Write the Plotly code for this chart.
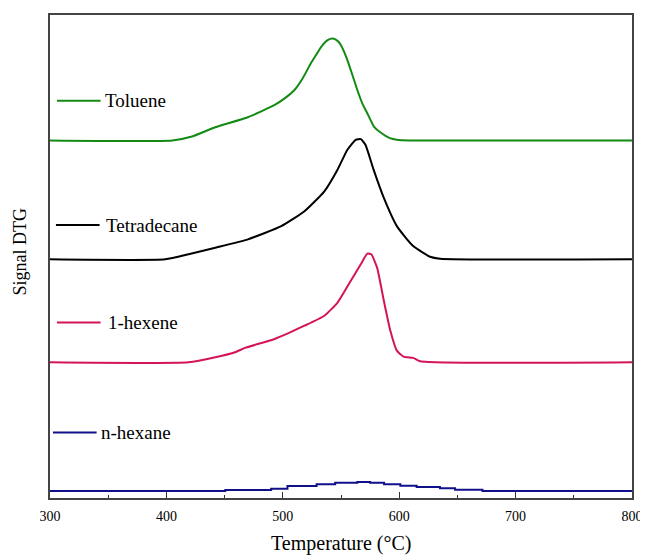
import plotly.graph_objects as go

# ---- data (Temperature °C, DTG signal in arbitrary offset units) ----
toluene_T = [300, 405, 422, 442, 470, 493, 501.6, 510, 517, 524, 528.5, 533, 538.5, 543, 547,
             550, 552.7, 555.5, 559.8, 564, 568.3, 572.6, 578.3, 584, 592, 598, 609, 800]
toluene_S = [359, 359, 363, 372.3, 382.3, 394.7, 401.3, 409.7, 421.3, 436.3, 444.7, 453, 459.7, 461.3, 459,
             454.7, 448, 439.7, 424.7, 409.7, 396.3, 386.3, 373, 367, 361.3, 359.7, 359, 359]

tetradecane_T = [300, 399, 419, 442, 470, 498.7, 518.6, 535.7, 547, 555.5, 562.6, 567, 571,
                 578, 586.8, 598, 612, 626.5, 635, 800]
tetradecane_S = [239.7, 239.7, 244.7, 251.3, 259.7, 273, 288, 308, 329.7, 349.7, 359.7, 360.3, 354.7,
                 329.7, 301.3, 273, 253, 242.3, 240.3, 239.7]

hexene_T = [300, 419, 442, 459, 467.5, 493, 518.6, 535.7, 547, 558.3, 567, 572.6, 576,
            581, 586.8, 592.4, 598, 603.8, 612, 618, 800]
hexene_S = [136.3, 136.3, 141.3, 146.3, 150.7, 159.7, 173, 183, 196.3, 218, 234.7, 245.3, 244.7,
            231.3, 198, 168, 148, 142, 140.7, 137.3, 136.3]

nhexane_T = [300, 450.6, 490, 504, 529, 545, 564, 575, 587, 601, 615, 635, 648, 671.5, 800]
nhexane_S = [7, 8, 9.3, 12, 13.7, 15.3, 16, 15.3, 13.7, 12.3, 11, 9.7, 8.3, 7, 7]

series_names = ["Toluene", "Tetradecane", "1-hexene", "n-hexane"]
series_colors = ["#138a13", "#000000", "#d4145a", "#10108a"]

x_ticks = [300, 400, 500, 600, 700, 800]

FONT = "Liberation Serif, Times New Roman, serif"

fig = go.Figure()
data = [(toluene_T, toluene_S), (tetradecane_T, tetradecane_S),
        (hexene_T, hexene_S), (nhexane_T, nhexane_S)]
for (xs, ys), name, col in zip(data, series_names, series_colors):
    if name == "n-hexane":
        ln = dict(color=col, width=2, shape="hv")
    else:
        ln = dict(color=col, width=2, shape="spline", smoothing=0.5)
    fig.add_trace(go.Scatter(x=xs, y=ys, mode="lines", name=name, line=ln,
                             showlegend=False, hoverinfo="skip"))

# in-plot legend items (line sample + label), paper coordinates
legend_pos = [  # (x0, x1, y, text_x)
    (0.0119, 0.0869, 0.8227, 0.0903),
    (0.0102, 0.0852, 0.5650, 0.0920),
    (0.0119, 0.0869, 0.3635, 0.0954),
    (0.0051, 0.0801, 0.1355, 0.0835),
]
for (x0, x1, yy, tx), name, col in zip(legend_pos, series_names, series_colors):
    fig.add_shape(type="line", xref="paper", yref="paper", x0=x0, x1=x1, y0=yy, y1=yy,
                  line=dict(color=col, width=2))
    fig.add_annotation(xref="paper", yref="paper", x=tx, y=yy, text=name, showarrow=False,
                       xanchor="left", yanchor="middle",
                       font=dict(family=FONT, size=19, color="#000"))

fig.add_annotation(xref="paper", yref="paper", x=-0.052, y=0.51, text="Signal DTG",
                   textangle=-90, showarrow=False, xanchor="center", yanchor="middle",
                   font=dict(family=FONT, size=18, color="#000"))
fig.add_annotation(xref="paper", yref="paper", x=0.5, y=-0.095, text="Temperature (°C)",
                   showarrow=False, xanchor="center", yanchor="middle",
                   font=dict(family=FONT, size=20, color="#000"))

# page body has an 8px margin: size the figure so the plot box lands at 50..637 x 13..498
fig.update_layout(
    width=640, height=547,
    margin=dict(l=42, r=11, t=5, b=57),
    plot_bgcolor="white", paper_bgcolor="white",
    font=dict(family=FONT, size=14, color="#000"),
)
fig.update_xaxes(
    range=[300, 800], tickvals=x_ticks, ticktext=[str(v) for v in x_ticks],
    ticks="inside", ticklen=6, tickwidth=1, tickcolor="#333",
    minor=dict(ticks="inside", ticklen=3, dtick=50, tickcolor="#333"),
    showline=True, linecolor="#444", linewidth=1.5, mirror=True,
    showgrid=False, zeroline=False, ticklabelstandoff=4,
    ticklabeloverflow="allow",
    tickfont=dict(family=FONT, size=14, color="#000"),
)
fig.update_yaxes(
    range=[0, 485], showticklabels=False, ticks="",
    showline=True, linecolor="#444", linewidth=1.5, mirror=True,
    showgrid=False, zeroline=False,
)

fig.write_html("out.html")
